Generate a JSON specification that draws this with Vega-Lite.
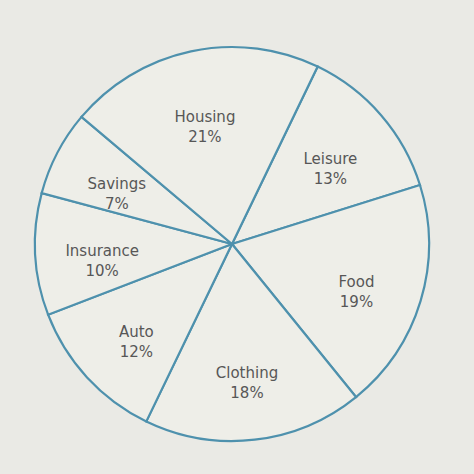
{
  "$schema": "https://vega.github.io/schema/vega-lite/v6.json",
  "description": "Household budget pie chart",
  "width": 474,
  "height": 474,
  "autosize": {"type": "fit", "contains": "padding"},
  "padding": {"left": 0, "right": 10, "top": 14, "bottom": 0},
  "background": "#eaeae5",
  "view": {"stroke": null},
  "data": {
    "values": [
      {"category": "Leisure", "pct": 13, "order": 1},
      {"category": "Food", "pct": 19, "order": 2},
      {"category": "Clothing", "pct": 18, "order": 3},
      {"category": "Auto", "pct": 12, "order": 4},
      {"category": "Insurance", "pct": 10, "order": 5},
      {"category": "Savings", "pct": 7, "order": 6},
      {"category": "Housing", "pct": 21, "order": 7}
    ]
  },
  "transform": [
    {"calculate": "datum.category + '\\n' + datum.pct + '%'", "as": "label"}
  ],
  "encoding": {
    "theta": {
      "field": "pct",
      "type": "quantitative",
      "stack": true,
      "scale": {"range": [0.45, 6.733]}
    },
    "order": {"field": "order", "type": "quantitative"}
  },
  "layer": [
    {
      "mark": {
        "type": "arc",
        "outerRadius": 197,
        "fill": "#eeeee8",
        "stroke": "#4e91ad",
        "strokeWidth": 2.2
      }
    },
    {
      "mark": {
        "type": "text",
        "radius": 130,
        "font": "DejaVu Sans",
        "fontSize": 15,
        "color": "#575757",
        "lineBreak": "\n",
        "lineHeight": 20,
        "align": "center",
        "baseline": "middle"
      },
      "encoding": {
        "text": {"field": "label", "type": "nominal"}
      }
    }
  ]
}
